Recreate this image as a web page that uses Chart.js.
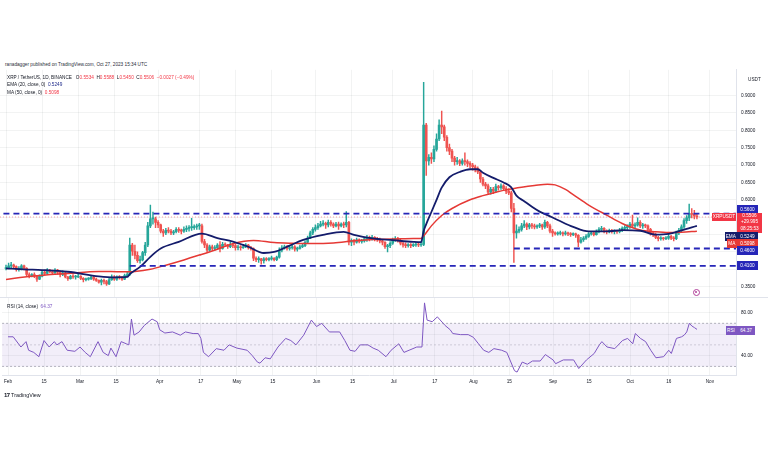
<!DOCTYPE html>
<html>
<head>
<meta charset="utf-8">
<script src="https://cdn.jsdelivr.net/npm/chart.js@4.4.0/dist/chart.umd.min.js"></script>
<style>
  body{margin:0;width:768px;height:463px;position:relative;overflow:hidden;background:#fff;font-family:"Liberation Sans",Arial,sans-serif;color:#131722}
  canvas{position:absolute;left:0}
  /* canvases start ~7.8px above their panes: Chart.js keeps half a label + tick padding above the top tick */
  #priceChart{top:62px}
  #rsiChart{top:290px}
  .t{position:absolute;font-size:4.7px;line-height:5px;white-space:nowrap}
  .r{color:#f23645}
  .box{position:absolute;font-size:4.7px;line-height:9px;height:9px;color:#fff;text-align:center;white-space:nowrap}
  .sep{position:absolute;background:#e0e3eb}
</style>
</head>
<body>
<div class="t" style="left:5px;top:62px;color:#2a2e39">ranadagger published on TradingView.com, Oct 27, 2023 15:34 UTC</div>

<canvas id="priceChart" width="768" height="244"></canvas>
<canvas id="rsiChart" width="768" height="108"></canvas>
<div class="sep" style="left:0;top:297px;width:768px;height:1px"></div>

<div class="t" style="left:7px;top:74.5px">XRP / TetherUS, 1D, BINANCE&nbsp;&nbsp; O<span class="r">0.5534</span>&nbsp; H<span class="r">0.5588</span>&nbsp; L<span class="r">0.5450</span>&nbsp; C<span class="r">0.5506</span>&nbsp; <span class="r">−0.0027 (−0.49%)</span></div>
<div class="t" style="left:7px;top:82px">EMA (20, close, 0)&nbsp; <span style="color:#1e2a8a">0.5249</span></div>
<div class="t" style="left:7px;top:89.5px">MA (50, close, 0)&nbsp; <span class="r">0.5098</span></div>
<div class="t" style="left:748px;top:76.5px">USDT</div>

<div class="box" style="left:737px;top:204.5px;width:21px;background:#2626b8">0.5600</div>
<div class="box" style="left:712px;top:212.5px;width:24px;height:8px;line-height:8px;background:#f23645">XRPUSDT</div>
<div class="box" style="left:737px;top:212.5px;width:25px;height:20px;line-height:6.4px;padding-top:0.5px;background:#f23645">0.5506<br>+29.995<br>08:25:53</div>
<div class="box" style="left:725px;top:231.5px;width:11.5px;background:#141c6b">EMA</div>
<div class="box" style="left:737px;top:231.5px;width:21px;background:#141c6b">0.5249</div>
<div class="box" style="left:727px;top:239px;width:9.5px;background:#e53935">MA</div>
<div class="box" style="left:737px;top:239px;width:21px;background:#e53935">0.5098</div>
<div class="box" style="left:737px;top:245.5px;width:21px;background:#2626b8">0.4600</div>
<div class="box" style="left:737px;top:261px;width:21px;background:#2626b8">0.4100</div>

<div class="t" style="left:7px;top:303.5px">RSI (14, close)&nbsp; <span style="color:#7e57c2">64.37</span></div>
<div class="box" style="left:725.5px;top:325.5px;width:11px;background:#7e57c2">RSI</div>
<div class="box" style="left:737px;top:325.5px;width:18px;background:#7e57c2">64.37</div>

<div style="position:absolute;left:692.5px;top:288.5px;width:5px;height:5px;border:1px solid #b0409a;border-radius:50%"></div>
<div style="position:absolute;left:695px;top:291px;width:2px;height:2px;background:#b0409a;border-radius:50%"></div>

<div class="t" style="left:4px;top:392px;font-size:5.4px;line-height:6px"><b style="font-size:6px;letter-spacing:-0.5px">17</b> TradingView</div>

<script>
// daily candles, Feb 1 2023 (day 0) .. Oct 27 2023 (day 268)
const opens = [
  // Feb
  0.402,0.405,0.410,0.412,0.408,0.400,0.402,0.410,0.403,0.385,0.382,0.385,0.380,0.372,0.380,0.392,0.388,0.398,0.393,0.390,0.398,0.392,0.385,0.390,0.378,0.373,0.380,0.378,
  // Mar
  0.378,0.380,0.374,0.370,0.372,0.373,0.378,0.372,0.368,0.363,0.368,0.365,0.358,0.370,0.378,0.372,0.378,0.376,0.372,0.382,0.385,0.470,0.452,0.440,0.425,0.428,0.448,0.470,0.525,0.545,0.545,
  // Apr
  0.535,0.528,0.510,0.505,0.512,0.510,0.505,0.508,0.515,0.512,0.510,0.515,0.518,0.520,0.520,0.522,0.525,0.525,0.480,0.470,0.455,0.465,0.460,0.462,0.470,0.460,0.472,0.470,0.465,0.470,
  // May
  0.468,0.462,0.465,0.462,0.465,0.470,0.462,0.460,0.432,0.428,0.430,0.425,0.430,0.428,0.430,0.432,0.428,0.435,0.455,0.462,0.465,0.460,0.462,0.465,0.458,0.460,0.465,0.468,0.478,0.490,0.505,
  // Jun
  0.515,0.520,0.525,0.530,0.532,0.528,0.535,0.530,0.525,0.530,0.525,0.530,0.528,0.535,0.478,0.482,0.478,0.485,0.480,0.482,0.488,0.492,0.488,0.492,0.488,0.485,0.482,0.478,0.465,0.468,
  // Jul
  0.475,0.485,0.488,0.482,0.475,0.470,0.468,0.470,0.468,0.470,0.472,0.470,0.472,0.815,0.712,0.722,0.718,0.745,0.775,0.815,0.810,0.780,0.750,0.740,0.720,0.710,0.712,0.705,0.712,0.710,0.705,
  // Aug
  0.700,0.695,0.690,0.680,0.660,0.645,0.640,0.622,0.630,0.625,0.638,0.635,0.640,0.632,0.625,0.620,0.575,0.505,0.510,0.515,0.525,0.530,0.522,0.528,0.525,0.522,0.525,0.528,0.522,0.535,0.525,
  // Sep
  0.510,0.505,0.502,0.503,0.505,0.502,0.504,0.502,0.500,0.502,0.498,0.478,0.485,0.490,0.495,0.502,0.505,0.500,0.508,0.515,0.518,0.510,0.508,0.512,0.508,0.510,0.508,0.512,0.518,0.520,
  // Oct
  0.522,0.530,0.525,0.528,0.535,0.525,0.528,0.525,0.515,0.505,0.500,0.492,0.488,0.490,0.488,0.490,0.495,0.490,0.488,0.505,0.512,0.522,0.540,0.548,0.560,0.558,0.5534
];
const highs = [
  0.412,0.418,0.420,0.415,0.410,0.408,0.414,0.412,0.405,0.390,0.388,0.390,0.382,0.384,0.395,0.398,0.402,0.400,0.398,0.402,0.400,0.394,0.396,0.392,0.380,0.383,0.385,0.383,
  0.388,0.382,0.376,0.375,0.376,0.382,0.380,0.375,0.370,0.372,0.372,0.368,0.375,0.384,0.382,0.381,0.382,0.380,0.386,0.392,0.490,0.475,0.470,0.450,0.438,0.452,0.478,0.535,0.585,0.565,0.550,
  0.540,0.530,0.515,0.518,0.520,0.515,0.512,0.520,0.520,0.516,0.522,0.525,0.526,0.547,0.528,0.530,0.532,0.530,0.486,0.474,0.470,0.470,0.468,0.474,0.480,0.478,0.476,0.472,0.478,0.474,
  0.472,0.470,0.468,0.472,0.474,0.472,0.466,0.462,0.436,0.436,0.432,0.434,0.434,0.434,0.438,0.434,0.438,0.462,0.468,0.470,0.468,0.466,0.470,0.468,0.464,0.470,0.472,0.482,0.496,0.510,0.520,
  0.528,0.532,0.538,0.540,0.536,0.542,0.540,0.534,0.535,0.536,0.534,0.536,0.566,0.538,0.488,0.486,0.490,0.488,0.486,0.492,0.498,0.496,0.498,0.494,0.492,0.490,0.486,0.480,0.472,0.480,
  0.490,0.494,0.492,0.486,0.478,0.476,0.474,0.474,0.474,0.478,0.476,0.478,0.938,0.820,0.730,0.735,0.755,0.790,0.830,0.855,0.815,0.785,0.760,0.745,0.725,0.722,0.716,0.718,0.735,0.715,0.710,
  0.705,0.700,0.695,0.684,0.665,0.650,0.645,0.636,0.636,0.645,0.642,0.646,0.644,0.638,0.632,0.625,0.590,0.528,0.522,0.532,0.540,0.534,0.532,0.532,0.530,0.528,0.532,0.530,0.542,0.538,0.530,
  0.515,0.508,0.508,0.510,0.508,0.510,0.507,0.506,0.505,0.504,0.500,0.492,0.494,0.500,0.506,0.508,0.508,0.514,0.520,0.524,0.520,0.514,0.516,0.515,0.514,0.512,0.518,0.522,0.526,0.528,
  0.535,0.556,0.534,0.548,0.540,0.532,0.530,0.528,0.518,0.508,0.504,0.495,0.494,0.492,0.494,0.505,0.498,0.494,0.510,0.518,0.528,0.546,0.555,0.588,0.575,0.570,0.5588
];
const lows = [
  0.398,0.402,0.405,0.403,0.395,0.395,0.398,0.398,0.380,0.375,0.378,0.376,0.365,0.370,0.378,0.383,0.385,0.390,0.386,0.388,0.386,0.378,0.382,0.375,0.368,0.372,0.374,0.372,
  0.376,0.370,0.364,0.367,0.369,0.370,0.368,0.365,0.360,0.355,0.358,0.354,0.356,0.368,0.368,0.368,0.372,0.368,0.370,0.378,0.382,0.440,0.430,0.420,0.418,0.424,0.440,0.465,0.520,0.530,0.520,
  0.520,0.505,0.495,0.500,0.505,0.500,0.500,0.505,0.506,0.502,0.506,0.508,0.510,0.512,0.515,0.515,0.515,0.475,0.462,0.450,0.452,0.455,0.455,0.458,0.450,0.458,0.465,0.460,0.462,0.462,
  0.455,0.456,0.455,0.460,0.462,0.458,0.455,0.425,0.422,0.420,0.415,0.418,0.424,0.424,0.426,0.424,0.425,0.432,0.450,0.458,0.455,0.455,0.458,0.452,0.452,0.458,0.462,0.465,0.475,0.488,0.500,
  0.510,0.515,0.522,0.525,0.518,0.522,0.524,0.520,0.522,0.515,0.522,0.520,0.522,0.470,0.468,0.470,0.475,0.476,0.475,0.478,0.480,0.482,0.484,0.482,0.480,0.476,0.470,0.460,0.450,0.462,
  0.472,0.480,0.478,0.470,0.464,0.462,0.464,0.462,0.465,0.466,0.465,0.466,0.468,0.670,0.700,0.705,0.710,0.740,0.770,0.790,0.770,0.740,0.730,0.710,0.700,0.702,0.698,0.700,0.700,0.695,0.692,
  0.685,0.680,0.675,0.650,0.640,0.632,0.615,0.616,0.618,0.622,0.628,0.630,0.626,0.618,0.615,0.565,0.420,0.490,0.505,0.510,0.520,0.514,0.516,0.518,0.516,0.518,0.520,0.515,0.518,0.520,0.505,
  0.495,0.498,0.498,0.499,0.496,0.498,0.497,0.495,0.497,0.492,0.465,0.475,0.480,0.486,0.492,0.498,0.496,0.498,0.505,0.510,0.505,0.502,0.505,0.504,0.502,0.503,0.505,0.508,0.512,0.515,
  0.518,0.520,0.518,0.524,0.520,0.518,0.520,0.510,0.498,0.494,0.488,0.482,0.484,0.484,0.485,0.486,0.485,0.482,0.485,0.500,0.508,0.518,0.532,0.540,0.548,0.545,0.5450
];
const closes = [
  0.405,0.410,0.412,0.408,0.400,0.402,0.410,0.403,0.385,0.382,0.385,0.380,0.372,0.380,0.392,0.388,0.398,0.393,0.390,0.398,0.392,0.385,0.390,0.378,0.373,0.380,0.378,0.378,
  0.380,0.374,0.370,0.372,0.373,0.378,0.372,0.368,0.363,0.368,0.365,0.358,0.370,0.378,0.372,0.378,0.376,0.372,0.382,0.385,0.470,0.452,0.440,0.425,0.428,0.448,0.470,0.525,0.545,0.545,0.535,
  0.528,0.510,0.505,0.512,0.510,0.505,0.508,0.515,0.512,0.510,0.515,0.518,0.520,0.520,0.522,0.525,0.525,0.480,0.470,0.455,0.465,0.460,0.462,0.470,0.460,0.472,0.470,0.465,0.470,0.468,
  0.462,0.465,0.462,0.465,0.470,0.462,0.460,0.432,0.428,0.430,0.425,0.430,0.428,0.430,0.432,0.428,0.435,0.455,0.462,0.465,0.460,0.462,0.465,0.458,0.460,0.465,0.468,0.478,0.490,0.505,0.515,
  0.520,0.525,0.530,0.532,0.528,0.535,0.530,0.525,0.530,0.525,0.530,0.528,0.535,0.478,0.482,0.478,0.485,0.480,0.482,0.488,0.492,0.488,0.492,0.488,0.485,0.482,0.478,0.465,0.468,0.475,
  0.485,0.488,0.482,0.475,0.470,0.468,0.470,0.468,0.470,0.472,0.470,0.472,0.815,0.712,0.722,0.718,0.745,0.775,0.815,0.810,0.780,0.750,0.740,0.720,0.710,0.712,0.705,0.712,0.710,0.705,0.700,
  0.695,0.690,0.680,0.660,0.645,0.640,0.622,0.630,0.625,0.638,0.635,0.640,0.632,0.625,0.620,0.575,0.505,0.510,0.515,0.525,0.530,0.522,0.528,0.525,0.522,0.525,0.528,0.522,0.535,0.525,0.510,
  0.505,0.502,0.503,0.505,0.502,0.504,0.502,0.500,0.502,0.498,0.478,0.485,0.490,0.495,0.502,0.505,0.500,0.508,0.515,0.518,0.510,0.508,0.512,0.508,0.510,0.508,0.512,0.518,0.520,0.522,
  0.530,0.525,0.528,0.535,0.525,0.528,0.525,0.515,0.505,0.500,0.492,0.488,0.490,0.488,0.490,0.495,0.490,0.488,0.505,0.512,0.522,0.540,0.548,0.560,0.558,0.5534,0.5506
];

// EMA 20 and MA 50 (day, value)
const emaDays = [0,7,14,24,36,42,47,48,52,56,60,67,76,82,88,94,100,104,110,115,123,131,135,142,150,158,161,162,163,165,167,169,172,176,180,183,185,189,193,196,198,201,204,207,210,214,220,226,233,239,246,252,257,262,268];
const emaValues = [0.403,0.400,0.398,0.393,0.380,0.377,0.378,0.386,0.407,0.436,0.460,0.479,0.503,0.490,0.480,0.465,0.447,0.450,0.468,0.484,0.499,0.508,0.499,0.489,0.484,0.479,0.478,0.510,0.530,0.565,0.600,0.635,0.665,0.680,0.688,0.688,0.678,0.663,0.650,0.636,0.612,0.596,0.580,0.566,0.556,0.542,0.522,0.509,0.509,0.513,0.511,0.500,0.502,0.512,0.5249];
const maDays = [0,10,24,36,45,50,56,62,69,75,82,88,96,104,111,119,127,135,142,150,158,161,162,165,169,173,180,185,190,195,200,205,210,213,217,220,226,233,239,246,252,257,262,268];
const maValues = [0.371,0.380,0.388,0.394,0.393,0.394,0.400,0.412,0.427,0.441,0.458,0.474,0.483,0.477,0.475,0.474,0.476,0.482,0.486,0.487,0.489,0.489,0.496,0.525,0.555,0.575,0.600,0.612,0.622,0.630,0.636,0.641,0.645,0.643,0.630,0.615,0.585,0.556,0.532,0.513,0.508,0.506,0.507,0.5098];

// RSI 14 (day, value)
const rsiDays = [0,2,5,7,8,10,12,14,16,18,19,21,23,26,28,30,32,35,37,39,40,42,44,46,47,48,49,51,53,56,58,59,61,64,67,69,72,74,75,76,78,81,84,86,89,93,95,97,98,100,102,105,108,110,112,115,118,120,122,125,129,131,133,135,137,140,142,144,147,149,152,154,156,159,161,162,163,165,167,170,172,173,176,179,181,183,185,187,189,192,194,197,198,200,202,204,207,209,212,213,216,220,222,225,228,230,231,233,236,239,241,243,244,246,248,250,252,255,257,258,260,262,263,264,265,266,267,268];
const rsiValues = [57.5,57.5,48,53,45,43,39,54,48,53,50,53,45,44,48,43,39,53,43,40,47,39,53,51,50,74,59,62,68,74,71.5,64,61,62,59,62,60.5,60.5,56,43,39,46.5,45,50,47,45,40,34,33,38,37,48,56,54,50,59,73,67,70,62,62,54,45,44,50,50,47,45,39,45,51,43,45,48,48,89,73,71.5,76,68,64,60.5,59.5,59.5,57,51,45,43,46.5,45,43,26,24.7,34,32,35,35,41,36,32.5,36,36,28,36,42,50,53,48,46.5,54,56,51,60.5,56,53,45,38,39,45,42,56,57.5,59,62,70,67.5,66,64.37];

// horizontal levels drawn on the chart
const levelValues = [0.56, 0.46, 0.41];
const levelFromDays = [-1, 197, 48];
const lastPrice = 0.5506;

const timeTickDays = [0,14,28,42,59,75,89,103,120,134,150,166,181,195,212,226,242,257,273];
const timeTickLabels = ['Feb','15','Mar','15','Apr','17','May','15','Jun','15','Jul','17','Aug','15','Sep','15','Oct','16','Nov'];
const priceGrid = [0.35,0.40,0.45,0.50,0.55,0.60,0.65,0.70,0.75,0.80,0.85,0.90];
const priceLabels = [0.35,0.60,0.65,0.70,0.75,0.80,0.85,0.90];
const rsiTicks = [40,60,80];
const rsiBand = [70,50,30];

const xMin = -2.33, xMax = 283.16;
const upCol = '#26a69a', downCol = '#ef5350';
const gridCol = 'rgba(42,46,57,0.06)';
const axisFont = {family:'Liberation Sans', size:4.7};

Chart.defaults.font.family = 'Liberation Sans';

const days = closes.map((c, i) => i);
const candleCol = closes.map((c, i) => c >= opens[i] ? upCol : downCol);
const pts = (xs, ys) => xs.map((x, i) => ({x: x, y: ys[i]}));

const levelSets = levelValues.map((v, i) => ({
  type: 'line', data: [{x: levelFromDays[i], y: v}, {x: xMax, y: v}],
  borderColor: '#2626b8', borderWidth: 1.8, borderDash: [6, 4], pointRadius: 0, order: -1
}));

new Chart(document.getElementById('priceChart'), {
  type: 'bar',
  data: {
    datasets: [
      ...levelSets,
      { type: 'line', data: [{x: xMin, y: lastPrice}, {x: xMax, y: lastPrice}], borderColor: 'rgba(242,54,69,0.45)', borderWidth: 1, borderDash: [1, 2], pointRadius: 0, order: 3 },
      { type: 'line', data: pts(emaDays, emaValues), borderColor: '#141c6b', borderWidth: 1.8, pointRadius: 0, cubicInterpolationMode: 'monotone', order: 0 },
      { type: 'line', data: pts(maDays, maValues), borderColor: '#e53935', borderWidth: 1.5, pointRadius: 0, cubicInterpolationMode: 'monotone', order: 0 },
      { data: days.map(i => ({x: i, y: [opens[i], closes[i]]})), backgroundColor: candleCol, barThickness: 2, minBarLength: 1, grouped: false, order: 1 },
      { data: days.map(i => ({x: i, y: [lows[i], highs[i]]})), backgroundColor: candleCol, barThickness: 0.8, grouped: false, order: 2 }
    ]
  },
  options: {
    responsive: false, animation: false, events: [], devicePixelRatio: 1,
    layout: { padding: 0 },
    plugins: { legend: { display: false }, tooltip: { enabled: false } },
    scales: {
      x: {
        type: 'linear', min: xMin, max: xMax, offset: false,
        afterBuildTicks: ax => { ax.ticks = timeTickDays.map(v => ({value: v})); },
        afterFit: ax => { ax.height = 0; },
        ticks: { display: false },
        grid: { color: gridCol, drawTicks: false, offset: false },
        border: { display: false }
      },
      y: {
        position: 'right', min: 0.317, max: 0.974,
        afterBuildTicks: ax => { ax.ticks = priceGrid.map(v => ({value: v})); },
        afterFit: ax => { ax.width = 32; },
        ticks: { autoSkip: false, padding: 5, color: '#131722', font: axisFont,
          callback: v => priceLabels.includes(v) ? v.toFixed(4) : '' },
        grid: { color: gridCol, drawTicks: false },
        border: { display: true, color: '#e0e3eb' }
      }
    }
  }
});

const bandLine = 'rgba(120,123,134,0.55)';
new Chart(document.getElementById('rsiChart'), {
  type: 'line',
  data: {
    datasets: [
      { data: [{x: xMin, y: rsiBand[0]}, {x: xMax, y: rsiBand[0]}], fill: {value: rsiBand[2]}, backgroundColor: 'rgba(126,87,194,0.1)', borderColor: bandLine, borderWidth: 1, borderDash: [2, 2], pointRadius: 0 },
      { data: [{x: xMin, y: rsiBand[1]}, {x: xMax, y: rsiBand[1]}], borderColor: 'rgba(120,123,134,0.3)', borderWidth: 1, borderDash: [2, 2], pointRadius: 0 },
      { data: [{x: xMin, y: rsiBand[2]}, {x: xMax, y: rsiBand[2]}], borderColor: bandLine, borderWidth: 1, borderDash: [2, 2], pointRadius: 0 },
      { data: pts(rsiDays, rsiValues), borderColor: '#7e57c2', borderWidth: 1, pointRadius: 0 }
    ]
  },
  options: {
    responsive: false, animation: false, events: [], devicePixelRatio: 1,
    layout: { padding: 0 },
    plugins: { legend: { display: false }, tooltip: { enabled: false } },
    scales: {
      x: {
        type: 'linear', min: xMin, max: xMax,
        afterBuildTicks: ax => { ax.ticks = timeTickDays.map(v => ({value: v})); },
        afterFit: ax => { ax.height = 23; },
        ticks: { autoSkip: false, maxRotation: 0, padding: 4, color: '#131722', font: axisFont,
          callback: (v, i) => timeTickLabels[i] },
        grid: { color: gridCol, drawTicks: false },
        border: { display: true, color: '#e0e3eb' }
      },
      y: {
        position: 'right', min: 22, max: 93.7,
        afterBuildTicks: ax => { ax.ticks = rsiTicks.map(v => ({value: v})); },
        afterFit: ax => { ax.width = 32; },
        ticks: { autoSkip: false, padding: 5, color: '#131722', font: axisFont,
          callback: v => v.toFixed(2) },
        grid: { color: gridCol, drawTicks: false },
        border: { display: true, color: '#e0e3eb' }
      }
    }
  }
});
</script>
</body>
</html>
